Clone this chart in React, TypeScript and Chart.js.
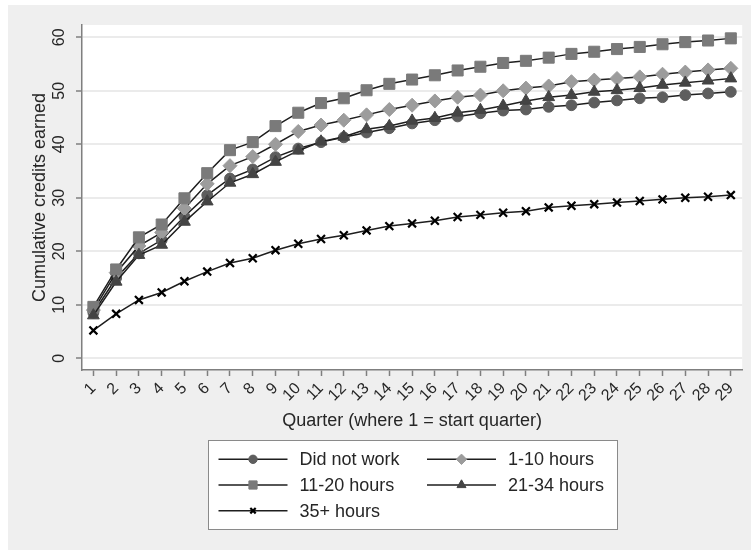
import React, { useEffect, useRef } from "react";
import { Chart, registerables } from "chart.js";
import { drawPoint } from "chart.js/helpers";

Chart.register(...registerables);

const quarters = ["1", "2", "3", "4", "5", "6", "7", "8", "9", "10", "11", "12", "13", "14", "15", "16", "17", "18", "19", "20", "21", "22", "23", "24", "25", "26", "27", "28", "29"];

const didNotWork = [8.5, 15.0, 19.6, 22.1, 26.5, 30.5, 33.6, 35.3, 37.6, 39.2, 40.4, 41.3, 42.2, 43.0, 43.9, 44.5, 45.2, 45.8, 46.3, 46.5, 47.0, 47.3, 47.8, 48.2, 48.6, 48.8, 49.2, 49.5, 49.8];
const hours1to10 = [9.0, 16.0, 21.0, 23.5, 28.0, 32.6, 36.0, 37.7, 40.0, 42.4, 43.6, 44.5, 45.5, 46.5, 47.3, 48.1, 48.8, 49.2, 50.0, 50.5, 50.9, 51.7, 52.0, 52.3, 52.6, 53.1, 53.5, 53.9, 54.2];
const hours11to20 = [9.6, 16.6, 22.6, 25.0, 29.9, 34.6, 38.9, 40.4, 43.4, 45.9, 47.7, 48.6, 50.1, 51.3, 52.1, 52.9, 53.8, 54.5, 55.2, 55.6, 56.2, 56.9, 57.3, 57.8, 58.2, 58.7, 59.1, 59.4, 59.8];
const hours21to34 = [8.0, 14.3, 19.3, 21.2, 25.5, 29.3, 32.8, 34.4, 36.7, 38.8, 40.5, 41.4, 42.8, 43.4, 44.4, 44.9, 45.9, 46.4, 47.2, 48.1, 48.8, 49.2, 49.8, 50.1, 50.5, 51.1, 51.5, 51.9, 52.3];
const hours35plus = [5.2, 8.3, 10.9, 12.3, 14.4, 16.2, 17.8, 18.7, 20.2, 21.4, 22.3, 23.0, 23.9, 24.7, 25.2, 25.7, 26.4, 26.8, 27.2, 27.5, 28.2, 28.5, 28.8, 29.1, 29.4, 29.7, 30.0, 30.2, 30.5];

const seriesLabels = ["Did not work", "1-10 hours", "11-20 hours", "21-34 hours", "35+ hours"];
const yTicks = [0, 10, 20, 30, 40, 50, 60];
const yMin = -2.2;
const yMax = 62.3;

const FONT = "'Liberation Sans', Arial, Helvetica, sans-serif";
const TEXT = "#262626";
const AXIS = "#7f7f7f";
const LINE = "#1e1e1e";

const styles = [
  { pointStyle: "circle", color: "#5e5e5e", radius: 5.4, legendRadius: 4.2, bw: 1 },
  { pointStyle: "rectRot", color: "#9c9c9c", radius: 7.0, legendRadius: 5.2, bw: 1 },
  { pointStyle: "rect", color: "#7a7a7a", radius: 7.8, legendRadius: 5.8, bw: 1 },
  { pointStyle: "triangle", color: "#444444", radius: 6.8, legendRadius: 5.2, bw: 1 },
  { pointStyle: "crossRot", color: "#000000", radius: 5.6, legendRadius: 3.8, bw: 2.2 },
];

const seriesValues = [didNotWork, hours1to10, hours11to20, hours21to34, hours35plus];

const backgroundPlugin = {
  id: "stataBackground",
  beforeDraw(chart: any) {
    const { ctx, chartArea: a, width, height } = chart;
    ctx.save();
    ctx.fillStyle = "#ffffff";
    ctx.fillRect(0, 0, width, height);
    ctx.fillStyle = "#efefef";
    ctx.fillRect(8, 5, width - 8, height - 5);
    ctx.fillStyle = "#ffffff";
    ctx.fillRect(a.left, a.top, a.right - a.left, a.bottom - a.top);
    ctx.restore();
  },
};

const legendPlugin = {
  id: "stataLegend",
  afterDraw(chart: any) {
    const { ctx, chartArea: a } = chart;
    const xScale = chart.scales.x;
    const boxW = 409;
    const boxH = 89;
    const cx = (a.left + a.right) / 2;
    const left = Math.round(cx - boxW / 2) + 0.5;
    const top = Math.round(xScale.bottom + 8) + 0.5;
    ctx.save();
    ctx.fillStyle = "#ffffff";
    ctx.fillRect(left, top, boxW, boxH);
    ctx.strokeStyle = "#8a8a8a";
    ctx.lineWidth = 1;
    ctx.strokeRect(left, top, boxW, boxH);
    const colX = [left + 10, left + 218.5];
    const rowY = [top + 18.8, top + 44.5, top + 70.2];
    ctx.font = `18px ${FONT}`;
    ctx.textBaseline = "middle";
    ctx.textAlign = "left";
    chart.data.datasets.forEach((ds: any, i: number) => {
      const col = i % 2;
      const row = Math.floor(i / 2);
      const x0 = colX[col];
      const y = rowY[row];
      ctx.strokeStyle = LINE;
      ctx.lineWidth = 1.5;
      ctx.beginPath();
      ctx.moveTo(x0, y);
      ctx.lineTo(x0 + 69, y);
      ctx.stroke();
      const st = styles[i];
      ctx.fillStyle = st.color;
      ctx.strokeStyle = st.color;
      ctx.lineWidth = st.bw;
      drawPoint(ctx, { pointStyle: st.pointStyle, radius: st.legendRadius, rotation: 0, borderWidth: st.bw } as any, x0 + 34.5, y);
      ctx.fillStyle = TEXT;
      ctx.fillText(ds.label, x0 + 81, y + 1);
    });
    ctx.restore();
  },
};

export default function App() {
  const ref = useRef<HTMLCanvasElement>(null);
  useEffect(() => {
    document.body.style.margin = "0";
    const canvas = ref.current;
    if (!canvas) return;
    const n = seriesValues.length;
    const chart = new Chart(canvas, {
      type: "line",
      data: {
        labels: quarters,
        datasets: seriesValues.map((vals, i) => ({
          label: seriesLabels[i],
          data: vals,
          order: n - i,
          borderColor: LINE,
          borderWidth: 1.5,
          tension: 0,
          fill: false,
          pointStyle: styles[i].pointStyle as any,
          pointRadius: styles[i].radius,
          pointBackgroundColor: styles[i].color,
          pointBorderColor: styles[i].color,
          pointBorderWidth: styles[i].bw,
        })),
      },
      options: {
        animation: false,
        responsive: false,
        devicePixelRatio: 1,
        events: [],
        layout: { padding: { left: 0, right: 8, top: 25, bottom: 118 } },
        plugins: {
          legend: { display: false },
          tooltip: { enabled: false },
        },
        scales: {
          x: {
            type: "category",
            offset: true,
            afterFit: (s: any) => {
              s.height = 62;
            },
            ticks: {
              autoSkip: false,
              minRotation: 45,
              maxRotation: 45,
              padding: 3,
              color: TEXT,
              font: { family: FONT, size: 16 },
            },
            grid: {
              drawOnChartArea: false,
              drawTicks: true,
              tickLength: 6,
              tickColor: AXIS,
              tickWidth: 1.5,
            },
            border: { display: true, color: AXIS, width: 1.5 },
            title: {
              display: true,
              text: "Quarter (where 1 = start quarter)",
              color: TEXT,
              font: { family: FONT, size: 18 },
              padding: { top: 0, bottom: 0 },
            },
          },
          y: {
            type: "linear",
            min: yMin,
            max: yMax,
            afterBuildTicks: (s: any) => {
              s.ticks = yTicks.map((v) => ({ value: v }));
            },
            afterFit: (s: any) => {
              s.width = 82;
            },
            ticks: {
              minRotation: 90,
              maxRotation: 90,
              crossAlign: "center",
              padding: 8,
              color: TEXT,
              font: { family: FONT, size: 16 },
            },
            grid: {
              color: "#ebebeb",
              lineWidth: 2,
              drawTicks: true,
              tickLength: 6,
              tickColor: AXIS,
              tickWidth: 1.5,
            },
            border: { display: true, color: AXIS, width: 1.5 },
            title: {
              display: true,
              text: "Cumulative credits earned",
              color: TEXT,
              font: { family: FONT, size: 18 },
              padding: { top: 29.5, bottom: 0 },
            },
          },
        },
      },
      plugins: [backgroundPlugin, legendPlugin],
    });
    return () => chart.destroy();
  }, []);
  return (
    <div style={{ width: 751, height: 550 }}>
      <canvas ref={ref} width={751} height={550} style={{ display: "block" }} />
    </div>
  );
}
